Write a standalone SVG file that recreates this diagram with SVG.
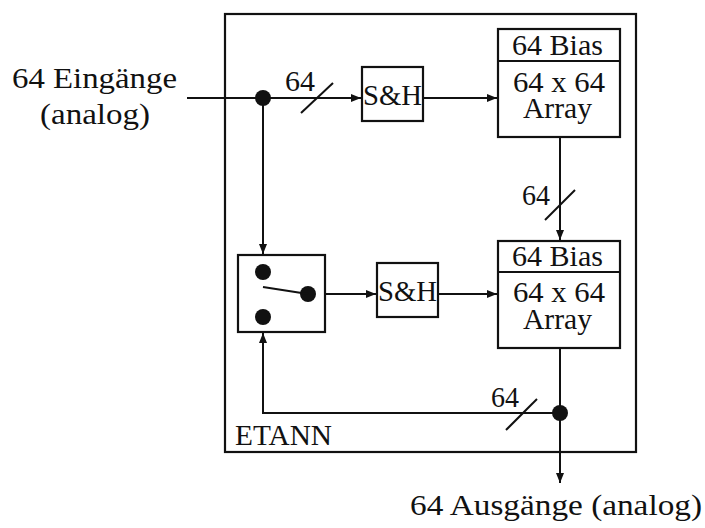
<svg xmlns="http://www.w3.org/2000/svg" width="705" height="528" viewBox="0 0 705 528">
<defs>
<style>
text{font-family:"Liberation Serif","Times New Roman",serif;font-size:29px;fill:#111}
.box{fill:none;stroke:#111;stroke-width:2.2}
.ln{fill:none;stroke:#111;stroke-width:2}
.dot{fill:#111}
</style>
<marker id="ah" markerUnits="userSpaceOnUse" markerWidth="12" markerHeight="10" refX="10" refY="4" orient="auto">
<path d="M0,0 L10,4 L0,8 Z" fill="#111"/>
</marker>
</defs>
<rect width="705" height="528" fill="#fff"/>
<g id="etann">
<rect class="box" x="225" y="14" width="411" height="438"/>
<text x="235" y="445" textLength="97" lengthAdjust="spacingAndGlyphs">ETANN</text>
</g>
<g id="input-label">
<text x="12" y="88" textLength="165" lengthAdjust="spacingAndGlyphs">64 Eingänge</text>
<text x="40" y="124" textLength="110" lengthAdjust="spacingAndGlyphs">(analog)</text>
</g>
<g id="output-label">
<text x="410" y="515" textLength="292" lengthAdjust="spacingAndGlyphs">64 Ausgänge (analog)</text>
</g>
<g id="sh1">
<rect class="box" x="362" y="67" width="61" height="54"/>
<text x="363" y="105" textLength="59" lengthAdjust="spacingAndGlyphs">S&amp;H</text>
</g>
<g id="array1">
<rect class="box" x="498" y="29" width="122" height="108"/>
<line class="box" x1="498" y1="61" x2="620" y2="61"/>
<text x="512" y="55" textLength="91" lengthAdjust="spacingAndGlyphs">64 Bias</text>
<text x="513" y="92" textLength="92" lengthAdjust="spacingAndGlyphs">64 x 64</text>
<text x="523" y="118" textLength="69" lengthAdjust="spacingAndGlyphs">Array</text>
</g>
<g id="switch">
<rect class="box" x="238" y="255" width="87" height="77"/>
<circle class="dot" cx="263" cy="272" r="8"/>
<circle class="dot" cx="263" cy="317" r="8"/>
<circle class="dot" cx="308" cy="294" r="8"/>
<line class="ln" x1="263" y1="287" x2="308" y2="294"/>
</g>
<g id="sh2">
<rect class="box" x="377" y="263" width="61" height="54"/>
<text x="378" y="301" textLength="59" lengthAdjust="spacingAndGlyphs">S&amp;H</text>
</g>
<g id="array2">
<rect class="box" x="498" y="241" width="122" height="107"/>
<line class="box" x1="498" y1="272" x2="620" y2="272"/>
<text x="512" y="266" textLength="91" lengthAdjust="spacingAndGlyphs">64 Bias</text>
<text x="513" y="302" textLength="92" lengthAdjust="spacingAndGlyphs">64 x 64</text>
<text x="523" y="329" textLength="69" lengthAdjust="spacingAndGlyphs">Array</text>
</g>
<g id="connectors">
<line class="ln" x1="187" y1="98" x2="361" y2="98" marker-end="url(#ah)"/>
<circle class="dot" cx="263" cy="98" r="8"/>
<line class="ln" x1="301" y1="113" x2="333" y2="83"/>
<text x="285" y="91" textLength="30" lengthAdjust="spacingAndGlyphs">64</text>
<line class="ln" x1="423" y1="98" x2="497" y2="98" marker-end="url(#ah)"/>
<line class="ln" x1="263" y1="98" x2="263" y2="254" marker-end="url(#ah)"/>
<line class="ln" x1="560" y1="137" x2="560" y2="240" marker-end="url(#ah)"/>
<line class="ln" x1="545" y1="220" x2="575" y2="190"/>
<text x="522" y="205" textLength="28" lengthAdjust="spacingAndGlyphs">64</text>
<line class="ln" x1="325" y1="294" x2="376" y2="294" marker-end="url(#ah)"/>
<line class="ln" x1="438" y1="294" x2="497" y2="294" marker-end="url(#ah)"/>
<line class="ln" x1="560" y1="348" x2="560" y2="483" marker-end="url(#ah)"/>
<polyline class="ln" points="560,413 263,413 263,333" marker-end="url(#ah)"/>
<circle class="dot" cx="560" cy="413" r="8"/>
<line class="ln" x1="506" y1="430" x2="537" y2="399"/>
<text x="491" y="407" textLength="28" lengthAdjust="spacingAndGlyphs">64</text>
</g>
</svg>
